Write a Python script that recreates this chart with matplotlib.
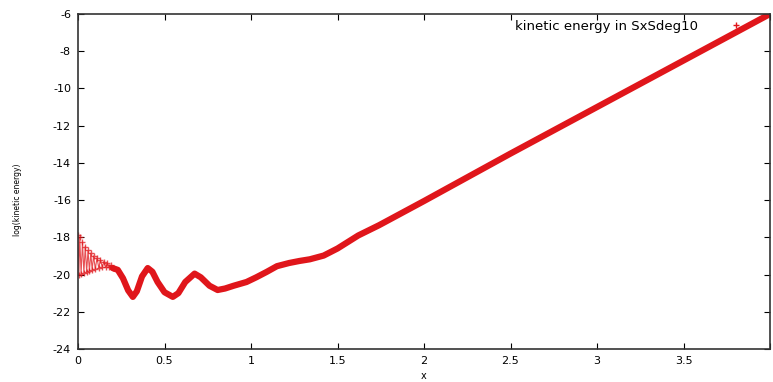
import matplotlib
matplotlib.use("Agg")
import matplotlib.pyplot as plt
import numpy as np

# noisy start region (points)
x_noise = [0.0, 0.005, 0.01, 0.018, 0.026, 0.034, 0.042, 0.05, 0.058, 0.066, 0.074, 0.082,
           0.09, 0.10, 0.11, 0.12, 0.13, 0.14, 0.15, 0.16, 0.17, 0.18, 0.19, 0.20]
y_noise = [-17.9, -20.0, -18.0, -19.95, -18.25, -19.9, -18.5, -19.85, -18.7, -19.8, -18.85, -19.75,
           -19.0, -19.7, -19.1, -19.65, -19.2, -19.6, -19.3, -19.6, -19.4, -19.6, -19.5, -19.65]

# smooth part
x_smooth = [0.20, 0.23, 0.26, 0.29, 0.317, 0.34, 0.37, 0.403, 0.43, 0.46, 0.50, 0.548,
            0.58, 0.62, 0.674, 0.71, 0.76, 0.807, 0.85, 0.90, 0.974, 1.03, 1.09, 1.15,
            1.22, 1.28, 1.34, 1.42, 1.50, 1.56, 1.62, 1.74, 1.87, 2.0, 2.5, 3.0, 3.5, 4.0]
y_smooth = [-19.65, -19.75, -20.2, -20.85, -21.2, -20.9, -20.1, -19.65, -19.85, -20.4, -20.95, -21.2,
            -21.0, -20.4, -19.95, -20.15, -20.6, -20.83, -20.75, -20.6, -20.4, -20.15, -19.86, -19.55,
            -19.38, -19.27, -19.18, -18.98, -18.6, -18.25, -17.9, -17.35, -16.7, -16.05, -13.5, -11.0, -8.5, -6.0]

xticks = [0, 0.5, 1, 1.5, 2, 2.5, 3, 3.5, 4]
xticklabels = ["0", "0.5", "1", "1.5", "2", "2.5", "3", "3.5", ""]
yticks = [-24, -22, -20, -18, -16, -14, -12, -10, -8, -6]
yticklabels = ["-24", "-22", "-20", "-18", "-16", "-14", "-12", "-10", "-8", "-6"]

fig = plt.figure(figsize=(7.73, 3.82), dpi=100)
ax = fig.add_axes([78/773, 33/382, (770-78)/773, (349-14)/382])

red = "#e0161b"
ax.plot(x_noise, y_noise, color=red, lw=0.8, marker="+", ms=4.5, mew=1.0, alpha=0.75)
ax.plot(x_smooth, y_smooth, color=red, lw=4.5, solid_capstyle="round", solid_joinstyle="round")
ax.plot([], [], color=red, lw=0, marker="+", ms=4, label="kinetic energy in SxSdeg10")

ax.set_xlim(0, 4)
ax.set_ylim(-24, -6)
ax.set_xticks(xticks)
ax.set_xticklabels(xticklabels)
ax.set_yticks(yticks)
ax.set_yticklabels(yticklabels)
ax.tick_params(direction="in", top=True, right=True, length=4, width=0.8, labelsize=8, pad=5)
for s in ax.spines.values():
    s.set_linewidth(1.2)
    s.set_color("#333333")
ax.set_xlabel("x", fontsize=7, va="center")
ax.xaxis.set_label_coords(0.5, -0.08)
ax.set_ylabel("log(kinetic energy)", fontsize=5.5)
ax.yaxis.set_label_coords(-0.081, 0.445)
leg = ax.legend(loc="upper right", frameon=False, fontsize=9.5, markerfirst=False,
                handlelength=2.2, handletextpad=1.8, borderaxespad=0.3,
                bbox_to_anchor=(0.985, 1.01))

fig.savefig("out.png", dpi=100)
